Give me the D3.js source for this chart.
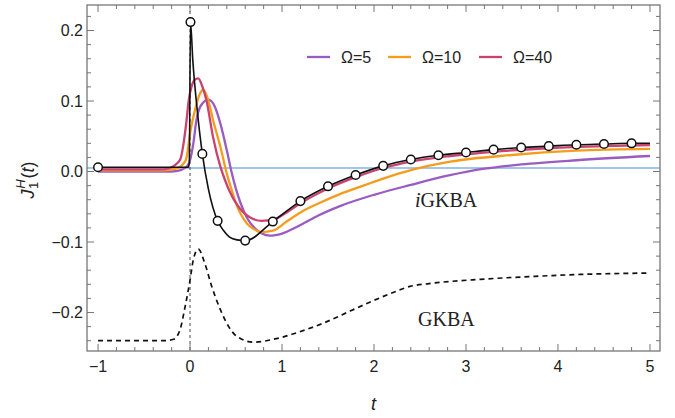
<!DOCTYPE html>
<html>
<head>
<meta charset="utf-8">
<script src="https://cdn.jsdelivr.net/npm/d3@7"></script>
<style>
  html, body { margin: 0; padding: 0; background: #fff; }
  svg { display: block; }
  .tick-label { font-family: "Liberation Sans", Arial, sans-serif; font-size: 16px; fill: #222; }
  .legend-label { font-family: "Liberation Sans", Arial, sans-serif; font-size: 16px; fill: #222; }
  .note { font-family: "Liberation Serif", "Times New Roman", serif; font-size: 20px; fill: #222; }
  .axis-title { font-family: "Liberation Sans", Arial, sans-serif; font-size: 18px; fill: #222; font-style: italic; }
</style>
</head>
<body>
<svg id="chart" width="675" height="418"></svg>
<script>
// exact data (black line with open circles)
const exactT = [-1, 0.005, 0.134, 0.3, 0.6, 0.9, 1.2, 1.5, 1.8, 2.1, 2.4, 2.7, 3.0, 3.3, 3.6, 3.9, 4.2, 4.5, 4.8];
const exactV = [0.006, 0.212, 0.025, -0.070, -0.098, -0.071, -0.042, -0.021, -0.005, 0.008, 0.017, 0.023, 0.027, 0.031, 0.034, 0.036, 0.038, 0.039, 0.040];

const exactLineT = [-1, -0.02, -0.008, 0.005, 0.03, 0.08, 0.134, 0.2, 0.3, 0.36, 0.43, 0.51, 0.6, 0.9, 1.2, 1.5, 1.8, 2.1, 2.4, 2.7, 3.0, 3.3, 3.6, 3.9, 4.2, 4.5, 4.8, 5.0];
const exactLineV = [0.006, 0.006, 0.012, 0.212, 0.158, 0.085, 0.025, -0.025, -0.070, -0.083, -0.093, -0.097, -0.098, -0.071, -0.042, -0.021, -0.005, 0.008, 0.017, 0.023, 0.027, 0.031, 0.034, 0.036, 0.038, 0.039, 0.040, 0.040];

// iGKBA, Omega = 5
const om5T = [-1, -0.2, -0.1, -0.03, 0, 0.036, 0.07, 0.12, 0.2, 0.27, 0.33, 0.4, 0.45, 0.5, 0.55, 0.62, 0.7, 0.78, 0.87, 1.0, 1.2, 1.4, 1.63, 2.0, 2.4, 2.8, 3.2, 3.6, 4.2, 5.0];
const om5V = [0.0, 0.0, 0.002, 0.008, 0.016, 0.040, 0.073, 0.094, 0.102, 0.092, 0.068, 0.030, 0.0, -0.025, -0.045, -0.066, -0.080, -0.088, -0.091, -0.088, -0.076, -0.062, -0.049, -0.033, -0.019, -0.006, 0.004, 0.010, 0.016, 0.022];

// iGKBA, Omega = 10
const om10T = [-1, -0.3, -0.15, -0.05, -0.036, 0, 0.054, 0.1, 0.145, 0.2, 0.25, 0.33, 0.4, 0.45, 0.5, 0.55, 0.62, 0.7, 0.78, 0.9, 1.05, 1.2, 1.4, 1.63, 1.8, 2.1, 2.4, 2.83, 3.5, 4.2, 5.0];
const om10V = [0.0015, 0.0015, 0.004, 0.015, 0.021, 0.054, 0.087, 0.108, 0.116, 0.100, 0.073, 0.035, -0.003, -0.025, -0.045, -0.060, -0.074, -0.082, -0.086, -0.084, -0.071, -0.058, -0.045, -0.032, -0.024, -0.010, 0.002, 0.014, 0.0234, 0.0295, 0.032];

// iGKBA, Omega = 40
const om40T = [-1, -0.3, -0.22, -0.11, -0.07, -0.04, -0.015, 0.02, 0.05, 0.09, 0.13, 0.18, 0.25, 0.33, 0.38, 0.43, 0.5, 0.58, 0.65, 0.78, 0.91, 1.05, 1.2, 1.5, 1.8, 2.1, 2.4, 2.83, 3.3, 3.9, 4.5, 5.0];
const om40V = [0.003, 0.003, 0.005, 0.016, 0.040, 0.070, 0.100, 0.122, 0.130, 0.132, 0.122, 0.100, 0.049, 0.007, -0.012, -0.028, -0.045, -0.058, -0.065, -0.070, -0.068, -0.058, -0.045, -0.024, -0.008, 0.005, 0.014, 0.022, 0.028, 0.033, 0.036, 0.0376];

// GKBA (dashed)
const gkbaT = [-1, -0.3, -0.18, -0.11, -0.054, 0, 0.036, 0.09, 0.16, 0.236, 0.33, 0.42, 0.51, 0.69, 0.94, 1.2, 1.45, 1.74, 1.96, 2.2, 2.39, 2.6, 3.15, 3.7, 4.24, 5.0];
const gkbaV = [-0.240, -0.240, -0.238, -0.225, -0.192, -0.154, -0.125, -0.110, -0.130, -0.163, -0.196, -0.220, -0.234, -0.242, -0.237, -0.227, -0.215, -0.198, -0.185, -0.172, -0.163, -0.159, -0.153, -0.149, -0.146, -0.144];

const refLevel = 0.005;
const xTicks = [-1, 0, 1, 2, 3, 4, 5];
const yTicks = [-0.2, -0.1, 0.0, 0.1, 0.2];

const series = [
  { name: 'Ω=5', t: om5T, v: om5V, color: '#9a5cc2' },
  { name: 'Ω=10', t: om10T, v: om10V, color: '#f59c1c' },
  { name: 'Ω=40', t: om40T, v: om40V, color: '#c9436e' }
];

const width = 675, height = 418;
const margin = { top: 5, right: 15, bottom: 67, left: 87 };

const svg = d3.select('#chart');

const x = d3.scaleLinear().domain([-1.12, 5.109]).range([margin.left, width - margin.right]);
const y = d3.scaleLinear().domain([-0.2546, 0.2362]).range([height - margin.bottom, margin.top]);

const x0 = margin.left, x1 = width - margin.right;
const y0 = margin.top, y1 = height - margin.bottom;

const zip = (ts, vs) => ts.map((t, i) => [t, vs[i]]);
const line = d3.line().x(d => x(d[0])).y(d => y(d[1])).curve(d3.curveMonotoneX);

// clip region
svg.append('clipPath').attr('id', 'clip')
  .append('rect').attr('x', x0).attr('y', y0).attr('width', x1 - x0).attr('height', y1 - y0);

const plot = svg.append('g').attr('clip-path', 'url(#clip)');

// reference level
plot.append('line')
  .attr('x1', x0).attr('x2', x1)
  .attr('y1', y(refLevel)).attr('y2', y(refLevel))
  .attr('stroke', '#4a8bd0').attr('stroke-width', 1.2);

// t = 0 marker
plot.append('line')
  .attr('x1', x(0)).attr('x2', x(0))
  .attr('y1', y0).attr('y2', y1)
  .attr('stroke', '#333').attr('stroke-width', 0.9)
  .attr('stroke-dasharray', '3,3');

// GKBA dashed
plot.append('path')
  .datum(zip(gkbaT, gkbaV))
  .attr('d', line)
  .attr('fill', 'none')
  .attr('stroke', '#111')
  .attr('stroke-width', 1.7)
  .attr('stroke-dasharray', '5,4');

// iGKBA curves
series.forEach(s => {
  plot.append('path')
    .datum(zip(s.t, s.v))
    .attr('d', line)
    .attr('fill', 'none')
    .attr('stroke', s.color)
    .attr('stroke-width', 2.3);
});

// exact
plot.append('path')
  .datum(zip(exactLineT, exactLineV))
  .attr('d', line)
  .attr('fill', 'none')
  .attr('stroke', '#111')
  .attr('stroke-width', 1.6);

plot.selectAll('.pt')
  .data(zip(exactT, exactV))
  .enter().append('circle')
  .attr('class', 'pt')
  .attr('cx', d => x(d[0]))
  .attr('cy', d => y(d[1]))
  .attr('r', 4.3)
  .attr('fill', '#fff')
  .attr('stroke', '#111')
  .attr('stroke-width', 1.5);

// frame
const frameColor = '#777';
svg.append('rect')
  .attr('x', x0).attr('y', y0).attr('width', x1 - x0).attr('height', y1 - y0)
  .attr('fill', 'none').attr('stroke', frameColor).attr('stroke-width', 1.3);

const ticks = svg.append('g').attr('stroke', frameColor).attr('stroke-width', 1);
const majLen = 7, minLen = 4;

// x ticks (bottom + top)
d3.range(-1, 5.001, 0.2).forEach(t => {
  const major = Math.abs(t - Math.round(t)) < 1e-6;
  const len = major ? majLen : minLen;
  const px = x(t);
  ticks.append('line').attr('x1', px).attr('x2', px).attr('y1', y1).attr('y2', y1 - len);
  ticks.append('line').attr('x1', px).attr('x2', px).attr('y1', y0).attr('y2', y0 + len);
});

// y ticks (left + right)
d3.range(-0.24, 0.2201, 0.02).forEach(v => {
  const major = Math.abs(v * 10 - Math.round(v * 10)) < 1e-6;
  const len = major ? majLen : minLen;
  const py = y(v);
  ticks.append('line').attr('x1', x0).attr('x2', x0 + len).attr('y1', py).attr('y2', py);
  ticks.append('line').attr('x1', x1).attr('x2', x1 - len).attr('y1', py).attr('y2', py);
});

const fmtY = v => (v < 0 ? '\u2212' : '') + Math.abs(v).toFixed(1);
const fmtX = v => (v < 0 ? '\u2212' : '') + Math.abs(v);

svg.selectAll('.ylab')
  .data(yTicks)
  .enter().append('text')
  .attr('class', 'tick-label')
  .attr('x', x0 - 4)
  .attr('y', d => y(d) + 5.5)
  .attr('text-anchor', 'end')
  .text(fmtY);

svg.selectAll('.xlab')
  .data(xTicks)
  .enter().append('text')
  .attr('class', 'tick-label')
  .attr('x', d => x(d))
  .attr('y', y1 + 21)
  .attr('text-anchor', 'middle')
  .text(fmtX);

// axis titles
svg.append('text')
  .attr('class', 'axis-title')
  .attr('x', (x0 + x1) / 2)
  .attr('y', 410)
  .attr('text-anchor', 'middle')
  .text('t');

const yTitle = svg.append('text')
  .attr('class', 'axis-title')
  .attr('transform', `translate(34, ${(y0 + y1) / 2 + 2}) rotate(-90)`)
  .attr('text-anchor', 'middle');
yTitle.append('tspan').text('J');
yTitle.append('tspan').attr('font-size', '13px').attr('font-style', 'normal').attr('dy', 4).attr('dx', 0.5).text('1');
yTitle.append('tspan').attr('font-size', '13px').attr('dy', -13).attr('dx', -7).text('H');
yTitle.append('tspan').attr('dy', 9).attr('dx', 1).attr('font-style', 'normal').text('(');
yTitle.append('tspan').text('t');
yTitle.append('tspan').attr('font-style', 'normal').text(')');

// notes
const n1 = svg.append('text').attr('class', 'note').attr('x', 415).attr('y', 207);
n1.append('tspan').attr('font-style', 'italic').text('i');
n1.append('tspan').text('GKBA');
svg.append('text').attr('class', 'note').attr('x', 418).attr('y', 326).text('GKBA');

// legend
const legendX = [307, 388, 479];
const legend = svg.append('g');
series.forEach((s, i) => {
  legend.append('line')
    .attr('x1', legendX[i]).attr('x2', legendX[i] + 23)
    .attr('y1', 57).attr('y2', 57)
    .attr('stroke', s.color).attr('stroke-width', 2.3);
  legend.append('text')
    .attr('class', 'legend-label')
    .attr('x', legendX[i] + 34)
    .attr('y', 63)
    .text(s.name);
});
</script>
</body>
</html>
